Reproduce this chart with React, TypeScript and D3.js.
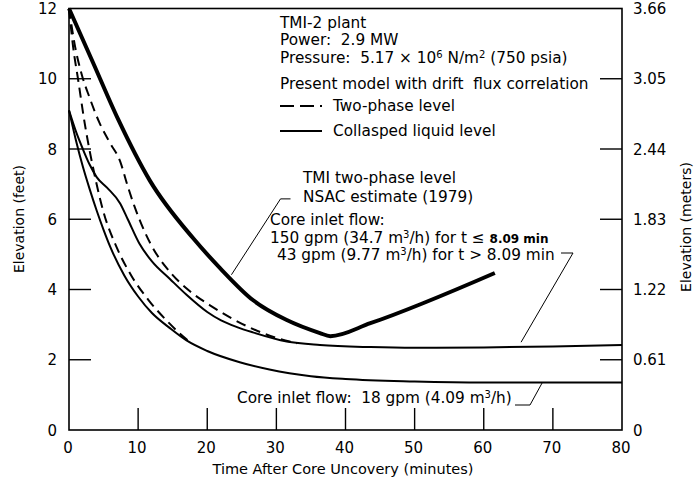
import React from "react";
import * as d3 from "d3";

const timeTicks = [0, 10, 20, 30, 40, 50, 60, 70, 80];
const feetTicks = [0, 2, 4, 6, 8, 10, 12];
const meterLabels = ["0", "0.61", "1.22", "1.83", "2.44", "3.05", "3.66"];

// TMI two-phase level, NSAC estimate (1979)
const tmiNsac: [number, number][] = [
  [0, 12], [3.5, 10.45], [7.1, 8.85], [11.7, 7.1], [18, 5.45],
  [21.85, 4.61], [26.6, 3.7], [31.5, 3.13], [36.3, 2.76], [37.8, 2.67],
  [43.6, 3.04], [61.6, 4.47],
];
// 150/43 gpm case: two-phase level (dashed)
const upperTwoPhase: [number, number][] = [
  [0, 12], [0.8, 11.0], [1.8, 10.15], [3, 9.45], [4.4, 8.75], [6, 8.15], [7.4, 7.65],
  [8.4, 7.0], [9.5, 6.35], [11.8, 5.3], [14.6, 4.5], [17.5, 3.95], [20.8, 3.5],
  [25.8, 2.95], [30, 2.62], [33, 2.47],
];
// 150/43 gpm case: collapsed liquid level (solid)
const upperCollapsed: [number, number][] = [
  [0, 9.1], [1, 8.5], [2, 8.0], [3, 7.55], [4, 7.2], [5.5, 6.9], [7.4, 6.45],
  [8.5, 6.0], [10.2, 5.3], [12, 4.8], [14.6, 4.3], [17, 3.85], [20, 3.36],
  [22, 3.12], [24.3, 2.93], [26.6, 2.78], [31.5, 2.52], [36.3, 2.42], [43.6, 2.36],
  [50, 2.34], [60, 2.35], [70, 2.38], [80, 2.42],
];
// 18 gpm case: two-phase level (dashed)
const lowerTwoPhase: [number, number][] = [
  [0, 12], [0.6, 10.9], [1.3, 10.0], [2.3, 8.7], [3.5, 7.45], [5, 6.2], [6.9, 5.2],
  [9, 4.4], [11.5, 3.7], [14.6, 3.02], [16, 2.75], [17.5, 2.5],
];
// 18 gpm case: collapsed liquid level (solid)
const lowerCollapsed: [number, number][] = [
  [0, 9.1], [1, 8.25], [2, 7.5], [3, 6.85], [4, 6.25], [5, 5.7], [6, 5.2], [8, 4.4],
  [10, 3.8], [12, 3.33], [14.6, 2.9], [17, 2.55], [20, 2.25], [24.7, 1.93],
  [29, 1.72], [35, 1.53], [40, 1.45], [50, 1.38], [60, 1.35], [80, 1.35],
];

const FONT = "'DejaVu Sans', Verdana, sans-serif";

export default function App() {
  const x = d3.scaleLinear().domain([0, 80]).range([69, 622]);
  const y = d3.scaleLinear().domain([0, 12]).range([430, 8.5]);
  const line = d3
    .line<[number, number]>()
    .x((d) => x(d[0]))
    .y((d) => y(d[1]))
    .curve(d3.curveMonotoneX);
  const lin = d3
    .line<[number, number]>()
    .x((d) => x(d[0]))
    .y((d) => y(d[1]));

  const tickLen = 22;
  const sup = (s: string) => (
    <tspan dy={-5} fontSize={10}>
      {s}
    </tspan>
  );

  return (
    <svg
      width={697}
      height={482}
      style={{ position: "absolute", left: 0, top: 0, background: "#fff" }}
      fontFamily={FONT}
    >
      <rect x={0} y={0} width={697} height={482} fill="#fff" />
      {/* frame */}
      <rect
        x={x(0)}
        y={y(12)}
        width={x(80) - x(0)}
        height={y(0) - y(12)}
        fill="none"
        stroke="#000"
        strokeWidth={1.6}
      />
      {/* ticks */}
      {feetTicks.slice(1, -1).map((v) => (
        <line key={"l" + v} x1={x(0)} x2={x(0) + tickLen} y1={y(v)} y2={y(v)} stroke="#000" strokeWidth={1.4} />
      ))}
      {feetTicks.slice(1, -1).map((v) => (
        <line key={"r" + v} x1={x(80)} x2={x(80) - tickLen} y1={y(v)} y2={y(v)} stroke="#000" strokeWidth={1.4} />
      ))}
      {timeTicks.slice(1, -1).map((t) => (
        <line key={"b" + t} x1={x(t)} x2={x(t)} y1={y(0)} y2={y(0) - tickLen} stroke="#000" strokeWidth={1.4} />
      ))}
      {/* tick labels */}
      {feetTicks.map((v) => (
        <text key={"lt" + v} x={57} y={y(v) + 5.5} textAnchor="end" fontSize={15}>
          {v}
        </text>
      ))}
      {feetTicks.map((v, i) => (
        <text key={"rt" + v} x={633} y={y(v) + 5.5} textAnchor="start" fontSize={15}>
          {meterLabels[i]}
        </text>
      ))}
      {timeTicks.map((t) => (
        <text key={"bt" + t} x={x(t) - 1} y={453} textAnchor="middle" fontSize={15}>
          {t}
        </text>
      ))}
      {/* axis titles */}
      <text x={343} y={474} textAnchor="middle" fontSize={14.5}>
        Time After Core Uncovery (minutes)
      </text>
      <text transform="translate(24,219) rotate(-90)" textAnchor="middle" fontSize={14}>
        Elevation (feet)
      </text>
      <text transform="translate(691,227) rotate(-90)" textAnchor="middle" fontSize={14}>
        Elevation (meters)
      </text>

      {/* curves */}
      <path d={line(tmiNsac) || ""} fill="none" stroke="#000" strokeWidth={4} strokeLinejoin="round" />
      <path d={line(upperCollapsed) || ""} fill="none" stroke="#000" strokeWidth={2} />
      <path d={line(upperTwoPhase) || ""} fill="none" stroke="#000" strokeWidth={2} strokeDasharray="10,6" />
      <path d={line(lowerCollapsed) || ""} fill="none" stroke="#000" strokeWidth={2} />
      <path d={line(lowerTwoPhase) || ""} fill="none" stroke="#000" strokeWidth={2} strokeDasharray="10,6" />

      {/* legend / annotation */}
      <g fontSize={15.3}>
        <text x={280} y={28}>TMI-2 plant</text>
        <text x={280} y={45} xmlSpace="preserve">Power:  2.9 MW</text>
        <text x={280} y={63} xmlSpace="preserve">
          Pressure:  5.17 × 10{sup("6")}
          <tspan dy={5}> N/m</tspan>
          {sup("2")}
          <tspan dy={5}> (750 psia)</tspan>
        </text>
        <text x={280} y={89} xmlSpace="preserve">Present model with drift  flux correlation</text>
        <line x1={280} x2={322} y1={106} y2={106} stroke="#000" strokeWidth={2} strokeDasharray="14,6" />
        <text x={333} y={111}>Two-phase level</text>
        <line x1={280} x2={322} y1={131} y2={131} stroke="#000" strokeWidth={2} />
        <text x={333} y={136}>Collasped liquid level</text>

        <text x={303} y={183}>TMI two-phase level</text>
        <text x={303} y={202}>NSAC estimate (1979)</text>
        <path d={lin([[23.5, 4.42], [30.6, 6.58]]) + "h10"} fill="none" stroke="#000" strokeWidth={1} />

        <text x={270} y={225}>Core inlet flow:</text>
        <text x={270} y={243}>
          150 gpm (34.7 m{sup("3")}
          <tspan dy={5}>/h) for t ≤ </tspan>
          <tspan fontWeight="bold" fontSize={12}>8.09 min</tspan>
        </text>
        <text x={277} y={260}>
          43 gpm (9.77 m{sup("3")}
          <tspan dy={5}>/h) for t {">"} 8.09 min</tspan>
        </text>
        <path d={"M561,253H573" + "L" + x(65.4) + "," + y(2.5)} fill="none" stroke="#000" strokeWidth={1} />

        <text x={237} y={403} xmlSpace="preserve">
          Core inlet flow:  18 gpm (4.09 m{sup("3")}
          <tspan dy={5}>/h)</tspan>
        </text>
        <path d={"M515,405H530L" + x(68.5) + "," + y(1.36)} fill="none" stroke="#000" strokeWidth={1} />
      </g>
    </svg>
  );
}
